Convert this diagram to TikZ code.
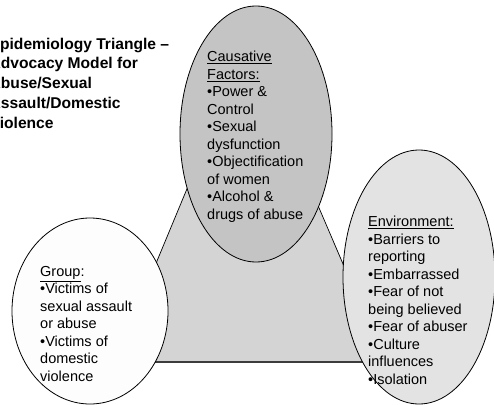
\documentclass[tikz,border=0pt]{standalone}
\usepackage{fontspec}
\setmainfont{Liberation Sans}
\begin{document}
\begin{tikzpicture}[x=1pt,y=-1pt,
  oval/.style={draw=black,line width=0.8pt},
  body/.style={anchor=north west,align=left,inner sep=0pt,font=\fontsize{14.5}{17.5}\selectfont},
  title/.style={anchor=north west,align=left,inner sep=0pt,font=\fontsize{15.6}{19.8}\selectfont\bfseries}]
\useasboundingbox (0,0) rectangle (494,404);
% triangle
\coordinate (apex) at (248,42);
\coordinate (bl) at (115,362);
\coordinate (br) at (385,362);
\fill[fill={rgb,255:red,212;green,212;blue,212}] (apex) -- (bl) -- (br) -- cycle;
\draw[line width=0.7pt] (bl) -- (apex) -- (br);
\draw[line width=1.2pt,draw={rgb,255:red,60;green,60;blue,60}] (bl) -- (br);
% ellipses
\draw[oval,fill={rgb,255:red,196;green,196;blue,196}] (256,134) ellipse [x radius=76,y radius=128];
\draw[oval,fill={rgb,255:red,253;green,253;blue,253}] (90,311) ellipse [x radius=78,y radius=93];
\draw[oval,fill={rgb,255:red,227;green,227;blue,227}] (419,277) ellipse [x radius=76,y radius=127];
% texts
\node[title] (ttl) at (-10.5,37.5) {Epidemiology Triangle –\\Advocacy Model for\\Abuse/Sexual\\Assault/Domestic\\Violence};
\node[body] (cause) at (207,51) {\underline{Causative}\\\underline{Factors:}\\•Power \&\\Control\\•Sexual\\dysfunction\\•Objectification\\of women\\•Alcohol \&\\drugs of abuse};
\node[body] (grp) at (40,266) {\underline{Group}:\\•Victims of\\sexual assault\\or abuse\\•Victims of\\domestic\\violence};
\node[body] (env) at (368,216) {\underline{Environment:}\\•Barriers to\\reporting\\•Embarrassed\\•Fear of not\\being believed\\•Fear of abuser\\•Culture\\influences\\•Isolation};
\end{tikzpicture}
\end{document}
